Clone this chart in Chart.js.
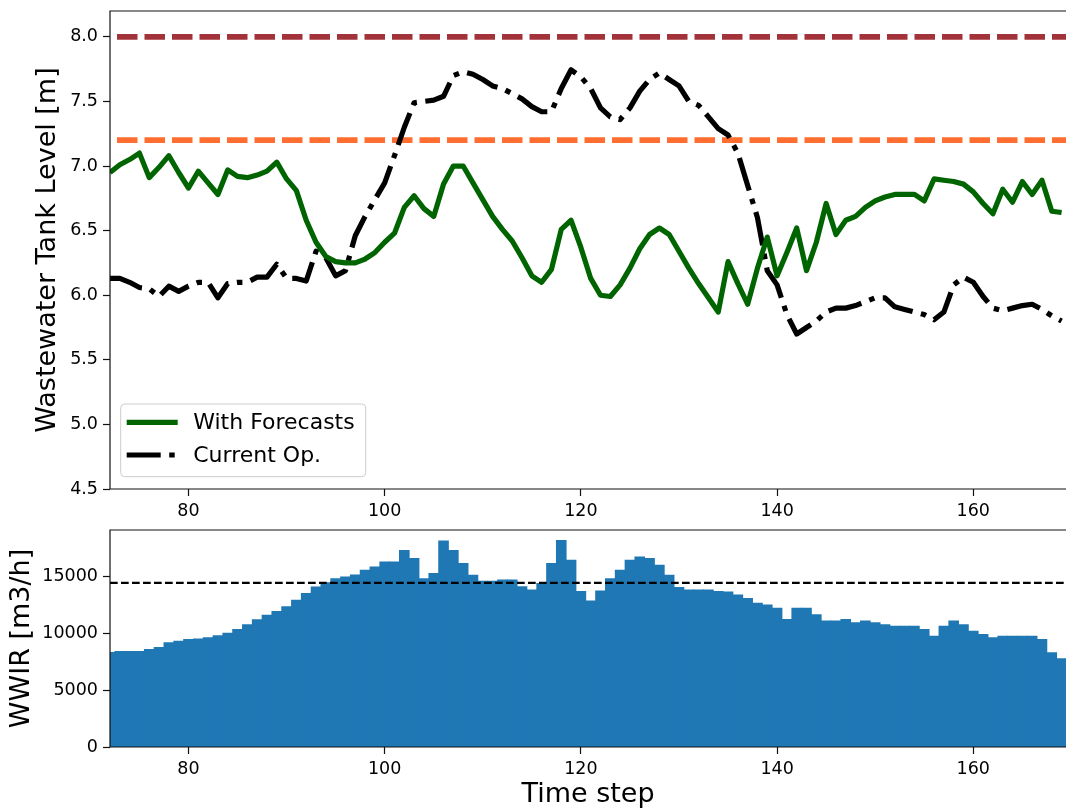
<!DOCTYPE html>
<html><head><meta charset="utf-8">
<script src="https://cdn.jsdelivr.net/npm/chart.js@4/dist/chart.umd.min.js"></script>
<style>
html,body{margin:0;padding:0;background:#fff;overflow:hidden;width:1066px;height:809px;}
#c1{position:absolute;left:0;top:0;}
#c2{position:absolute;left:0;top:525px;}
</style></head><body>
<canvas id="c1" width="1066" height="525"></canvas>
<canvas id="c2" width="1066" height="284"></canvas>
<script>
// ---------- data ----------
const timeSteps = [72,73,74,75,76,77,78,79,80,81,82,83,84,85,86,87,88,89,90,91,92,93,94,95,96,97,98,99,
  100,101,102,103,104,105,106,107,108,109,110,111,112,113,114,115,116,117,118,119,120,121,122,123,124,125,
  126,127,128,129,130,131,132,133,134,135,136,137,138,139,140,141,142,143,144,145,146,147,148,149,150,151,
  152,153,154,155,156,157,158,159,160,161,162,163,164,165,166,167,168,169];

const withForecasts = [6.95,7.01,7.05,7.10,6.91,6.99,7.08,6.95,6.83,6.96,6.87,6.78,6.97,6.92,6.91,6.93,6.96,7.03,
  6.90,6.81,6.58,6.41,6.30,6.26,6.25,6.25,6.28,6.33,6.41,6.48,6.68,6.77,6.67,6.61,6.86,7.00,7.00,6.87,6.74,6.61,
  6.51,6.42,6.29,6.15,6.10,6.20,6.51,6.58,6.37,6.13,6.00,5.99,6.08,6.21,6.36,6.47,6.52,6.47,6.34,6.21,6.09,5.98,
  5.87,6.26,6.09,5.93,6.21,6.45,6.15,6.33,6.52,6.19,6.41,6.71,6.47,6.58,6.61,6.68,6.73,6.76,6.78,6.78,6.78,6.73,
  6.90,6.89,6.88,6.86,6.80,6.71,6.63,6.82,6.72,6.88,6.78,6.89,6.65,6.64];

const currentOp = [6.13,6.13,6.10,6.06,6.05,5.99,6.07,6.03,6.07,6.10,6.10,5.98,6.09,6.10,6.10,6.14,6.14,6.24,
  6.13,6.13,6.11,6.34,6.29,6.15,6.19,6.46,6.61,6.74,6.87,7.08,7.30,7.49,7.50,7.51,7.54,7.70,7.73,7.71,7.67,7.62,
  7.60,7.56,7.52,7.46,7.42,7.42,7.60,7.745,7.69,7.60,7.45,7.38,7.36,7.45,7.58,7.67,7.72,7.67,7.62,7.50,7.47,7.38,
  7.29,7.24,7.10,6.85,6.60,6.19,6.08,5.85,5.70,5.75,5.80,5.87,5.90,5.90,5.92,5.95,5.98,5.98,5.91,5.89,5.87,5.85,
  5.81,5.87,6.08,6.14,6.10,5.99,5.90,5.88,5.90,5.92,5.93,5.89,5.84,5.80];

const inflow = [8300,8400,8400,8400,8560,8750,9150,9300,9440,9500,9590,9770,10000,10320,10740,11180,11580,11910,
  12320,12900,13490,14050,14430,14790,14930,15100,15520,15810,16250,16250,17250,16550,14790,15250,18100,17250,
  16110,15080,14550,14550,14660,14660,14080,13790,14370,16110,18130,16400,13670,12820,13700,14790,15520,16400,
  16690,16550,15960,15080,14000,13790,13790,13790,13670,13620,13350,13050,12620,12470,12200,11200,12200,12200,
  11620,11060,11060,11200,10920,11060,10920,10740,10620,10620,10620,10320,9740,10620,11060,10740,10180,9880,
  9600,9740,9740,9740,9740,9440,8280,7750];

const maxLevel = 8.0;
const warnLevel = 7.2;
const inflowThreshold = 14400;

const seriesLabels = ['With Forecasts', 'Current Op.'];
const xRange = [72, 169.45];
const levelRange = [4.5, 8.2];
const inflowRange = [0, 19050];
const xTicks = [80, 100, 120, 140, 160];
const levelTicks = [4.5, 5.0, 5.5, 6.0, 6.5, 7.0, 7.5, 8.0];
const inflowTicks = [0, 5000, 10000, 15000];

const levelTitle = 'Wastewater Tank Level [m]';
const inflowTitle = 'WWIR [m3/h]';
const xTitle = 'Time step';

// ---------- helpers ----------
const FONT = "'DejaVu Sans', 'Liberation Sans', sans-serif";
const toXY = (ys) => ys.map((v, i) => ({x: timeSteps[i], y: v}));
const hline = (v) => xRange.map(x => ({x, y: v}));

const framePlugin = {
  id: 'frame',
  afterDatasetsDraw(chart) {
    const {ctx, chartArea: a} = chart;
    ctx.save();
    ctx.strokeStyle = '#111';
    ctx.lineWidth = 1.2;
    ctx.beginPath();
    ctx.moveTo(a.right + 2, a.top);
    ctx.lineTo(a.left, a.top);
    ctx.lineTo(a.left, a.bottom);
    ctx.lineTo(a.right + 2, a.bottom);
    ctx.stroke();
    ctx.restore();
  }
};

const legendPlugin = {
  id: 'boxLegend',
  afterDraw(chart) {
    const items = chart.data.datasets.filter(d => d.inLegend);
    if (!items.length) return;
    const {ctx, chartArea: a} = chart;
    const fs = 22;
    ctx.save();
    ctx.font = fs + 'px ' + FONT;
    const tw = Math.max(...items.map(d => ctx.measureText(d.label).width));
    const handle = 51, padL = 6, gap = 15.5, padR = 11;
    const rowH = 32.7;
    const w = padL + handle + gap + tw + padR;
    const h = 72.7;
    const x0 = a.left + 10.7, y0 = a.bottom - 12.3 - h;
    ctx.beginPath();
    if (ctx.roundRect) ctx.roundRect(x0, y0, w, h, 4); else ctx.rect(x0, y0, w, h);
    ctx.fillStyle = 'rgba(255,255,255,0.8)';
    ctx.fill();
    ctx.strokeStyle = '#cccccc';
    ctx.lineWidth = 1;
    ctx.stroke();
    items.forEach((d, i) => {
      const cy = y0 + 18.3 + i * rowH;
      ctx.beginPath();
      ctx.setLineDash(d.borderDash || []);
      ctx.lineDashOffset = 0;
      ctx.lineCap = 'butt';
      ctx.strokeStyle = d.borderColor;
      ctx.lineWidth = d.borderWidth;
      ctx.moveTo(x0 + padL, cy);
      ctx.lineTo(x0 + padL + handle, cy);
      ctx.stroke();
      ctx.setLineDash([]);
      ctx.fillStyle = '#000';
      ctx.textBaseline = 'middle';
      ctx.textAlign = 'left';
      ctx.fillText(d.label, x0 + padL + handle + gap, cy + 1);
    });
    ctx.restore();
  }
};

const tickFont = {family: FONT, size: 17.5};
const titleFont = {family: FONT, size: 27, lineHeight: 1.1};

function xScale(showTitle, height) {
  return {
    type: 'linear', min: xRange[0], max: xRange[1], offset: false,
    afterBuildTicks: s => { s.ticks = xTicks.map(v => ({value: v})); },
    afterFit: s => { s.height = height; s.paddingLeft = 0; s.paddingRight = 0; },
    grid: {display: true, drawOnChartArea: false, drawTicks: true, tickLength: 7,
           tickColor: '#111', tickWidth: 1.2, offset: false},
    border: {display: false},
    ticks: {font: tickFont, color: '#000', padding: 5, maxRotation: 0, autoSkip: false,
            callback: v => String(v)},
    title: {display: showTitle, text: xTitle, font: titleFont, color: '#000',
            padding: {top: 0, bottom: -1}}
  };
}

function yScale(range, ticks, fmt, title, titlePad) {
  return {
    type: 'linear', min: range[0], max: range[1],
    afterBuildTicks: s => { s.ticks = ticks.map(v => ({value: v})); },
    afterFit: s => { s.width = 110; s.paddingTop = 0; s.paddingBottom = 0; },
    grid: {display: true, drawOnChartArea: false, drawTicks: true, tickLength: 7,
           tickColor: '#111', tickWidth: 1.2},
    border: {display: false},
    ticks: {font: tickFont, color: '#000', padding: 5, autoSkip: false, callback: fmt},
    title: {display: true, text: title, font: titleFont, color: '#000',
            padding: {top: titlePad, bottom: 0}}
  };
}

const common = {
  responsive: false, animation: false, devicePixelRatio: 1, events: [],
  plugins: {legend: {display: false}, tooltip: {enabled: false}},
  elements: {point: {radius: 0}, line: {tension: 0}}
};

// ---------- top chart ----------
new Chart(document.getElementById('c1'), {
  type: 'line',
  data: {
    datasets: [
      {label: seriesLabels[0], inLegend: true, data: toXY(withForecasts), borderColor: '#006400',
       borderWidth: 5.2, borderJoinStyle: 'round', borderCapStyle: 'butt', clip: 0},
      {label: seriesLabels[1], inLegend: true, data: toXY(currentOp), borderColor: '#000000',
       borderWidth: 5.2, borderDash: [34, 8.5, 5.5, 8.5], borderJoinStyle: 'round', borderCapStyle: 'butt', clip: 0},
      {label: 'warn', data: hline(warnLevel), borderColor: '#ff6e30', borderWidth: 5.8,
       borderDash: [20.5, 7], borderDashOffset: 20.5, clip: 0},
      {label: 'max', data: hline(maxLevel), borderColor: '#a3333a', borderWidth: 5.8,
       borderDash: [20.5, 7], borderDashOffset: 20.5, clip: 0}
    ]
  },
  options: Object.assign({}, common, {
    layout: {padding: {top: 11, left: 0, right: 0, bottom: 0}},
    scales: {
      x: xScale(false, 36),
      y: yScale(levelRange, levelTicks, v => Number(v).toFixed(1), levelTitle, 33.2)
    }
  }),
  plugins: [framePlugin, legendPlugin]
});

// ---------- bottom chart ----------
new Chart(document.getElementById('c2'), {
  type: 'bar',
  data: {
    datasets: [
      {type: 'line', label: 'threshold', data: hline(inflowThreshold), borderColor: '#000',
       borderWidth: 2.2, borderDash: [7.7, 3.3], borderDashOffset: 0, clip: 0},
      {type: 'bar', label: 'WWIR', data: toXY(inflow), backgroundColor: '#1f77b4',
       borderWidth: 0, barPercentage: 1, categoryPercentage: 1, inflateAmount: 0.4, clip: 0}
    ]
  },
  options: Object.assign({}, common, {
    layout: {padding: {top: 5, left: 0, right: 0, bottom: 0}},
    scales: {
      x: xScale(true, 62),
      y: yScale(inflowRange, inflowTicks, v => String(v), inflowTitle, 7.6)
    }
  }),
  plugins: [framePlugin]
});
</script>
</body></html>
